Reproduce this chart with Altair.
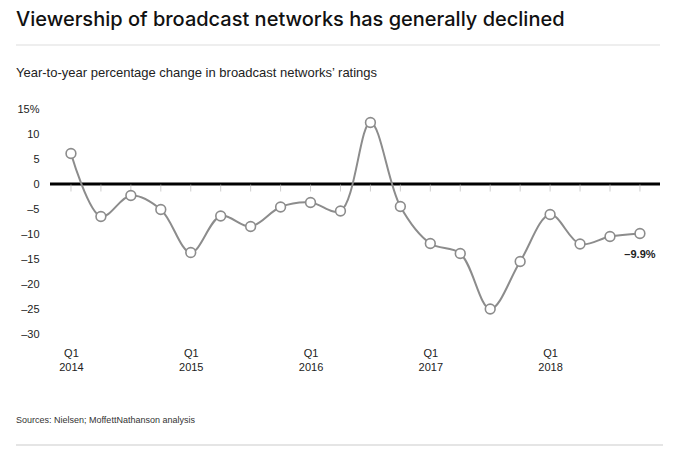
import altair as alt
import pandas as pd

# ---- data ----
quarters = [
    "Q1 2014", "Q2 2014", "Q3 2014", "Q4 2014",
    "Q1 2015", "Q2 2015", "Q3 2015", "Q4 2015",
    "Q1 2016", "Q2 2016", "Q3 2016", "Q4 2016",
    "Q1 2017", "Q2 2017", "Q3 2017", "Q4 2017",
    "Q1 2018", "Q2 2018", "Q3 2018", "Q4 2018",
]
values = [6.1, -6.5, -2.3, -5.1, -13.7, -6.4, -8.5, -4.6, -3.7, -5.4,
          12.3, -4.5, -11.9, -13.9, -25.0, -15.5, -6.1, -12.0, -10.5, -9.9]
y_ticks = [15, 10, 5, 0, -5, -10, -15, -20, -25, -30]
x_label_idx = [0, 4, 8, 12, 16]

title_text = "Viewership of broadcast networks has generally declined"
subtitle_text = "Year-to-year percentage change in broadcast networks\u2019 ratings"
source_text = "Sources: Nielsen; MoffettNathanson analysis"
last_label = "\u20139.9%"

df = pd.DataFrame({"idx": list(range(len(quarters))), "quarter": quarters, "value": values})
df["zero"] = 0

W, H = 610, 245
GRAY = "#8c8c8c"
FONT = "Liberation Sans"

xscale = alt.Scale(domain=[-0.7, 19.67], nice=False, zero=False)
yscale = alt.Scale(domain=[-32, 17], nice=False, zero=False)

x_axis = alt.Axis(
    values=x_label_idx, domain=False, ticks=False, grid=False, title=None,
    labelExpr="['Q1', '' + (2014 + datum.value / 4)]",
    labelFont=FONT, labelFontSize=11, labelColor="#222", labelPadding=3,
    labelLineHeight=14,
)
y_axis = alt.Axis(
    values=y_ticks, domain=False, ticks=False, grid=False, title=None,
    labelExpr="datum.value == 15 ? '15%' : (datum.value < 0 ? '\u2013' + abs(datum.value) : '' + datum.value)",
    labelFont=FONT, labelFontSize=11, labelColor="#222", labelPadding=11,
)

X = alt.X("idx:Q", scale=xscale, axis=x_axis)

base = alt.Chart(df)

zero = base.mark_rule(color="black", strokeWidth=3).encode(
    y=alt.Y("zero:Q", scale=yscale, axis=y_axis)
).transform_filter("datum.idx == 0")

ticks = base.mark_tick(color="#bbbbbb", thickness=1, size=7, yOffset=4).encode(
    x=X,
    y=alt.Y("zero:Q", scale=yscale, axis=y_axis),
)

line = base.mark_line(interpolate="catmull-rom", color=GRAY, strokeWidth=2).encode(
    x=X,
    y=alt.Y("value:Q", scale=yscale, axis=y_axis),
)

points = base.mark_point(filled=True, fill="white", stroke=GRAY, strokeWidth=1.6,
                         size=95, opacity=1).encode(
    x=X,
    y=alt.Y("value:Q", scale=yscale, axis=y_axis),
)

last = base.transform_filter("datum.idx == 19").transform_calculate(
    lbl="'" + last_label + "'"
).mark_text(
    font=FONT, fontSize=11, fontWeight="bold", color="#222", dy=21, align="center"
).encode(
    x=X,
    y=alt.Y("value:Q", scale=yscale, axis=y_axis),
    text="lbl:N",
)

def txt(s, x, y, **kw):
    return alt.Chart(pd.DataFrame({"t": [s]})).mark_text(align="left", baseline="middle", **kw).encode(
        text="t:N", x=alt.value(x), y=alt.value(y)
    )

title = txt(title_text, -34, -79, font="Inter", fontSize=20, fontWeight=500, color="#111")
subtitle = txt(subtitle_text, -34, -26, font=FONT, fontSize=13, color="#222")
source = txt(source_text, -34, 321, font=FONT, fontSize=9, color="#333")

rule_top = alt.Chart(pd.DataFrame({"a": [0]})).mark_rule(color="#dddddd", strokeWidth=1).encode(
    x=alt.value(-34), x2=alt.value(610), y=alt.value(-54)
)
rule_bot = alt.Chart(pd.DataFrame({"a": [0]})).mark_rule(color="#dddddd", strokeWidth=1.5).encode(
    x=alt.value(-34), x2=alt.value(613), y=alt.value(346)
)

chart = alt.layer(
    zero, ticks, line, points, last, title, subtitle, source, rule_top, rule_bot
).properties(
    width=W, height=H,
    autosize=alt.AutoSizeParams(type="none"),
    padding={"left": 42, "top": 91, "right": 10, "bottom": 110},
    background="white",
).configure_view(stroke=None)

chart.save("out.html", embed_options={"renderer": "svg", "actions": False})
